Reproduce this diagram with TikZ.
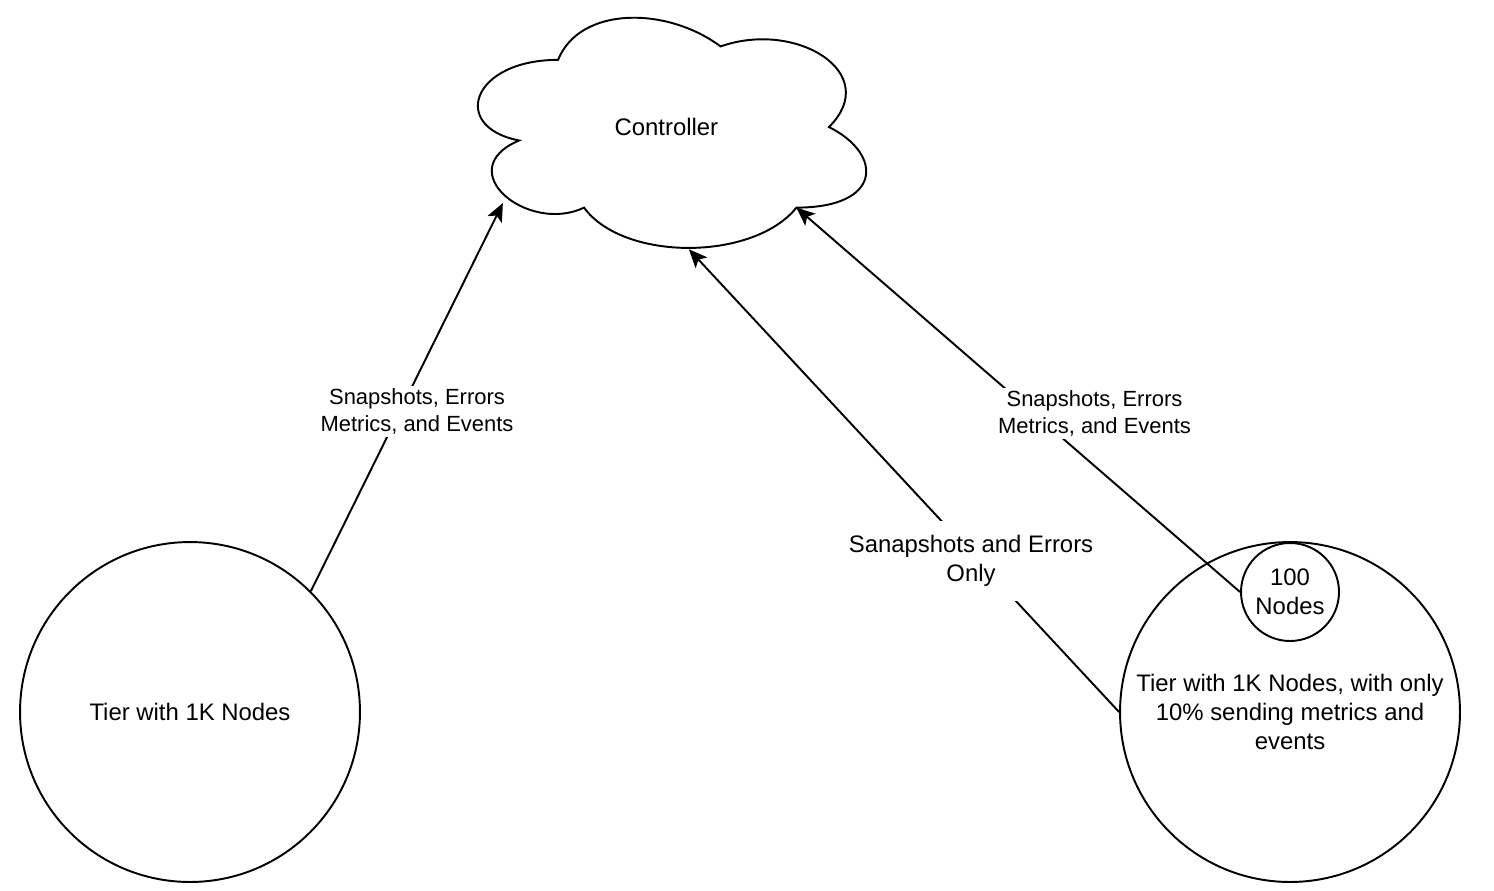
\documentclass[tikz,border=0pt]{standalone}
\usepackage{fontspec}
\setmainfont{Liberation Sans}
\usepackage{tikz}
\usetikzlibrary{arrows.meta}

\tikzset{
    tier/.style={draw, circle, line width=1.1pt, minimum size=6.8cm, inner sep=0pt,
        align=center, font=\fontsize{13.6}{16.3}\selectfont},
    flow/.style={draw, line width=1.1pt, -{Stealth[length=10.5pt,width=9pt,inset=2.5pt]}},
    edgelabel/.style={fill=white, inner sep=1.5pt, align=center,
        font=\fontsize{12.5}{15}\selectfont},
}

\begin{document}
\begin{tikzpicture}[x=0.02cm, y=-0.02cm]
            \useasboundingbox (0,0) rectangle (1494,890);

            % cloud in its own unit box
            \begin{scope}[shift={(8.996cm,0.146cm)}, x=8.67cm, y=-5.374cm]
                \draw[line width=1.1pt] (0.25,0.25) .. controls (0.05,0.25) and (0,0.5) .. (0.16,0.55)
                    .. controls (0,0.66) and (0.18,0.9) .. (0.31,0.8)
                    .. controls (0.4,1) and (0.7,1) .. (0.8,0.8)
                    .. controls (1,0.8) and (1,0.6) .. (0.875,0.5)
                    .. controls (1,0.3) and (0.8,0.1) .. (0.625,0.2)
                    .. controls (0.5,0.05) and (0.3,0.05) .. (0.25,0.25) -- cycle;
                \node[font=\fontsize{13.6}{16.3}\selectfont] (ctrl) at (0.5,0.5) {Controller};
                \coordinate (ctrlL) at (0.1227,0.7827);
                \coordinate (ctrlB) at (0.5518,0.955);
                \coordinate (ctrlR) at (0.8,0.8);
            \end{scope}

            \node[tier] (tierA) at (190,712) {Tier with 1K Nodes};
            \node[tier] (tierB) at (1290,712) {Tier with 1K Nodes, with only\\10\% sending metrics and\\events};
            \node[tier, fill=white, minimum size=1.96cm] (hundred) at (1290,592) {100\\Nodes};

            \draw[flow] (tierA.45) -- (ctrlL);
            \draw[flow] (tierB.west) -- (ctrlB);
            \draw[flow] (hundred.west) -- (ctrlR);

            \node[edgelabel] (labA) at (417,411.5) {Snapshots, Errors\\Metrics, and Events};
            \node[edgelabel] (labR) at (1094.5,413.5) {Snapshots, Errors\\Metrics, and Events};
            \node[edgelabel, inner ysep=8.5pt, font=\fontsize{13.6}{16.3}\selectfont] (labB) at (971,561) {Sanapshots and Errors\\Only};
        \end{tikzpicture}
\end{document}
